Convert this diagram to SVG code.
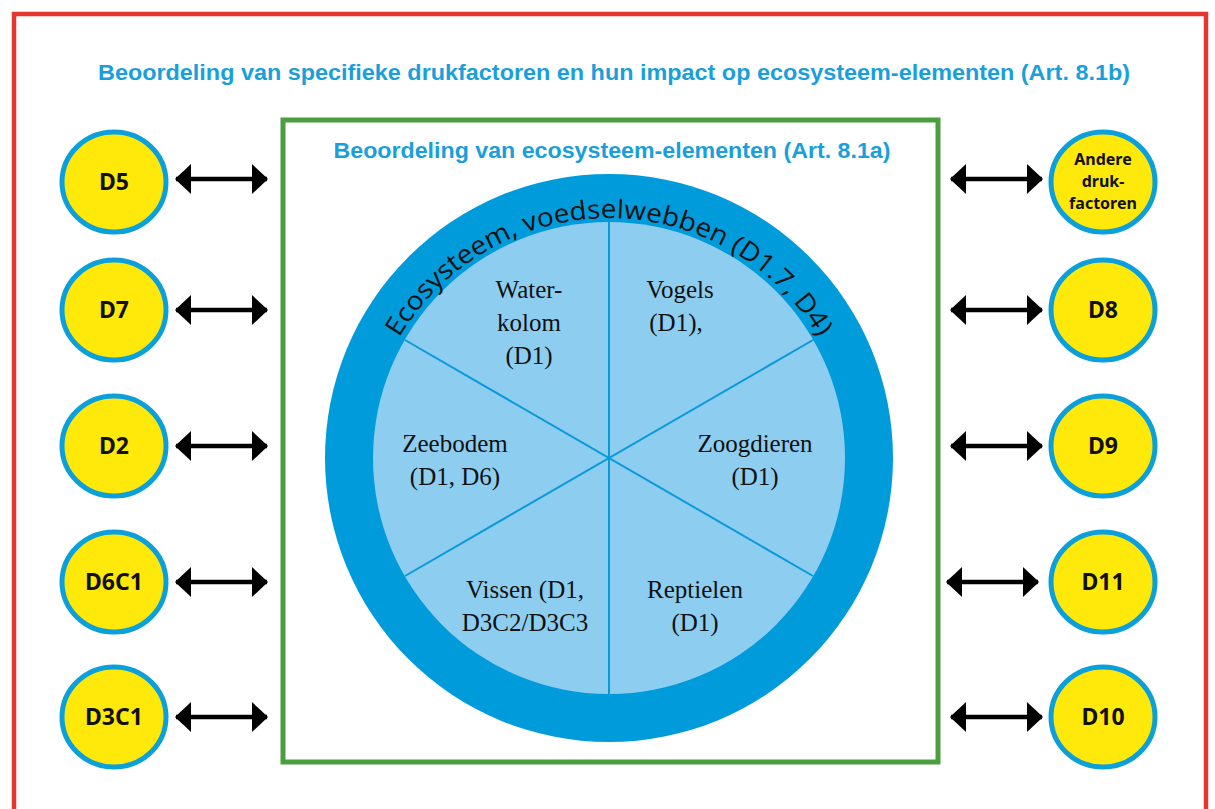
<svg xmlns="http://www.w3.org/2000/svg" width="1215" height="809" viewBox="0 0 1215 809">
<defs>
<style>
.node ellipse{fill:#ffe90a;stroke:#0ba0dc;stroke-width:5}
.nt{font-family:"Noto Sans","Open Sans",sans-serif;font-weight:bold;font-size:23px;fill:#111;text-anchor:middle}
.nts{font-family:"Noto Sans","Open Sans",sans-serif;font-weight:bold;font-size:16px;fill:#111;text-anchor:middle}
.title{font-family:"Liberation Sans Narrow","Liberation Sans",sans-serif;font-weight:bold;fill:#1a9fdb}
.seg{font-family:"Liberation Serif",serif;font-size:25px;fill:#111;text-anchor:middle}
.arr{stroke:#000;stroke-width:4.5;fill:none;marker-start:url(#ah);marker-end:url(#ah)}
</style>
<marker id="ah" viewBox="0 0 16 30" refX="15" refY="15" markerWidth="16" markerHeight="30" markerUnits="userSpaceOnUse" orient="auto-start-reverse">
<path d="M0,0 L16,15 L0,30 Z" fill="#000"/>
</marker>
<path id="arc" d="M 400,588 A 244 244 0 1 1 818,588" fill="none"/>
</defs>
<rect width="1215" height="809" fill="#fff"/>
<path d="M14,815 L14,14 L1206,14 L1206,815" fill="none" stroke="#e2362f" stroke-width="4.5"/>
<text class="title" x="614" y="80" font-size="22" text-anchor="middle" textLength="1032" lengthAdjust="spacingAndGlyphs">Beoordeling van specifieke drukfactoren en hun impact op ecosysteem-elementen (Art. 8.1b)</text>
<g id="main">
<rect x="283" y="120" width="655" height="642" fill="#fff" stroke="#4a9e3f" stroke-width="5"/>
<text class="title" x="612" y="158" font-size="22" text-anchor="middle" textLength="557" lengthAdjust="spacingAndGlyphs">Beoordeling van ecosysteem-elementen (Art. 8.1a)</text>
<circle cx="609" cy="458" r="284" fill="#009bdb"/>
<circle cx="609" cy="458" r="236" fill="#8dcef0"/>
<g stroke="#0a9ad9" stroke-width="2">
<line x1="609" y1="222" x2="609" y2="694"/>
<line x1="405" y1="340" x2="813" y2="576"/>
<line x1="405" y1="576" x2="813" y2="340"/>
</g>
<text font-family="'Open Sans','Noto Sans',sans-serif" font-size="26" fill="#111"><textPath href="#arc" startOffset="50%" text-anchor="middle" textLength="505" lengthAdjust="spacingAndGlyphs">Ecosysteem, voedselwebben (D1.7, D4)</textPath></text>
<text class="seg" x="529" y="298">Water-</text>
<text class="seg" x="529" y="331">kolom</text>
<text class="seg" x="529" y="364">(D1)</text>
<text class="seg" x="680" y="298">Vogels</text>
<text class="seg" x="676" y="331">(D1),</text>
<text class="seg" x="455" y="452">Zeebodem</text>
<text class="seg" x="455" y="485">(D1, D6)</text>
<text class="seg" x="755" y="452">Zoogdieren</text>
<text class="seg" x="755" y="485">(D1)</text>
<text class="seg" x="525" y="598">Vissen (D1,</text>
<text class="seg" x="525" y="631">D3C2/D3C3</text>
<text class="seg" x="695" y="598">Reptielen</text>
<text class="seg" x="695" y="631">(D1)</text>
</g>
<g id="n-d5" class="node"><ellipse cx="114" cy="182" rx="52" ry="50"/><text class="nt" x="114" y="190">D5</text></g>
<g id="n-d7" class="node"><ellipse cx="114" cy="310" rx="52" ry="50"/><text class="nt" x="114" y="318">D7</text></g>
<g id="n-d2" class="node"><ellipse cx="114" cy="446" rx="52" ry="50"/><text class="nt" x="114" y="454">D2</text></g>
<g id="n-d6c1" class="node"><ellipse cx="114" cy="582" rx="52" ry="50"/><text class="nt" x="114" y="590">D6C1</text></g>
<g id="n-d3c1" class="node"><ellipse cx="114" cy="717" rx="52" ry="50"/><text class="nt" x="114" y="725">D3C1</text></g>
<g id="n-andere" class="node"><ellipse cx="1103" cy="182" rx="52" ry="50"/><text class="nts" x="1103" y="165">Andere</text><text class="nts" x="1103" y="187">druk-</text><text class="nts" x="1103" y="209">factoren</text></g>
<g id="n-d8" class="node"><ellipse cx="1103" cy="310" rx="52" ry="50"/><text class="nt" x="1103" y="318">D8</text></g>
<g id="n-d9" class="node"><ellipse cx="1103" cy="446" rx="52" ry="50"/><text class="nt" x="1103" y="454">D9</text></g>
<g id="n-d11" class="node"><ellipse cx="1103" cy="582" rx="52" ry="50"/><text class="nt" x="1103" y="590">D11</text></g>
<g id="n-d10" class="node"><ellipse cx="1103" cy="717" rx="52" ry="50"/><text class="nt" x="1103" y="725">D10</text></g>
<g id="connectors">
<line class="arr" x1="176" y1="179" x2="267" y2="179"/>
<line class="arr" x1="176" y1="310" x2="267" y2="310"/>
<line class="arr" x1="176" y1="446" x2="267" y2="446"/>
<line class="arr" x1="176" y1="582" x2="267" y2="582"/>
<line class="arr" x1="176" y1="717" x2="267" y2="717"/>
<line class="arr" x1="951" y1="179" x2="1042" y2="179"/>
<line class="arr" x1="951" y1="310" x2="1042" y2="310"/>
<line class="arr" x1="951" y1="446" x2="1042" y2="446"/>
<line class="arr" x1="947" y1="582" x2="1038" y2="582"/>
<line class="arr" x1="951" y1="717" x2="1042" y2="717"/>
</g>
</svg>
